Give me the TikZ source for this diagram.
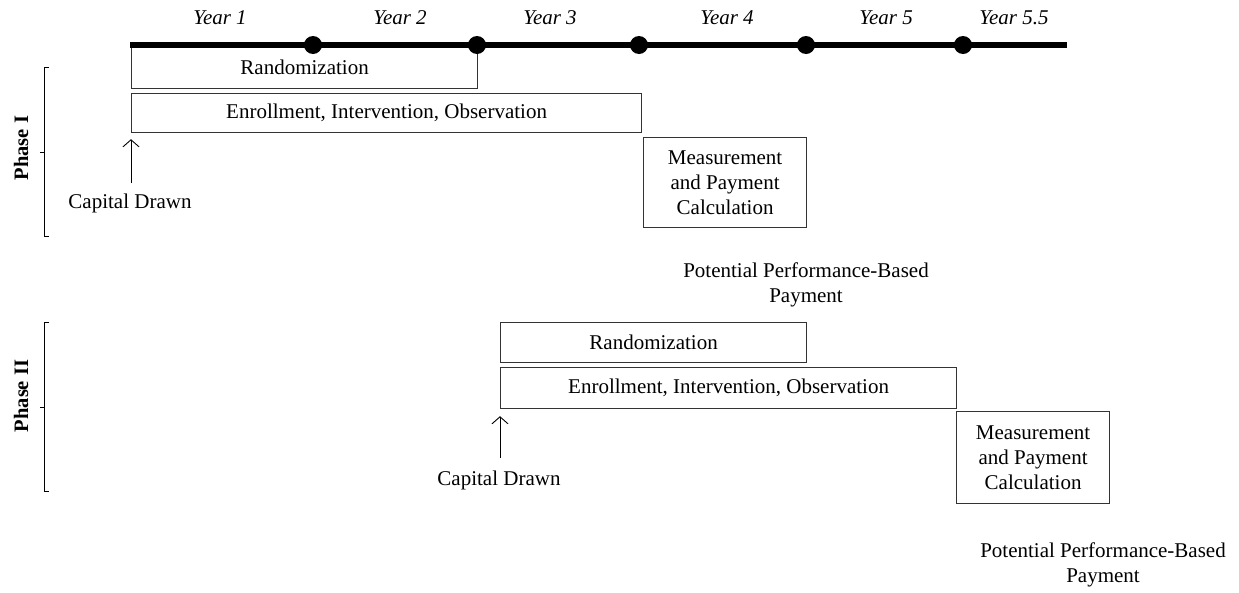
\documentclass[tikz,border=0pt]{standalone}
\usepackage{fontspec}
\setmainfont{Liberation Serif}
\usetikzlibrary{arrows.meta,calc}
\begin{document}
\begin{tikzpicture}[x=1pt,y=-1pt,
  txt/.style={font=\fontsize{21}{25}\selectfont},
  box/.style={txt, draw=black!80, line width=1.2pt, inner sep=0pt, anchor=north west, align=center},
  lbl/.style={txt, inner sep=0pt, align=center},
  yr/.style={inner sep=0pt, font=\fontsize{21}{25}\selectfont\itshape},
  phase/.style={inner sep=0pt, rotate=90, font=\fontsize{20.5}{25}\selectfont\bfseries},
  dot/.style={circle, fill=black, inner sep=0pt, minimum size=18pt},
  timeline/.style={line width=6pt},
  capar/.style={-{Straight Barb[length=7pt,width=16pt]}, line width=0.9pt},
  bracket/.style={line width=1pt}]
\useasboundingbox (0,0) rectangle (1239,592);

% Phase I boxes
\node[box, minimum width=346pt, minimum height=43pt] (rand1) at (131,45) {Randomization};
\node[box, minimum width=510pt, minimum height=39pt] (enr1) at (131,93) {Enrollment, Intervention, Observation};
\node[box, minimum width=163pt, minimum height=90pt] (meas1) at (643,137) {Measurement\\and Payment\\Calculation};

% timeline
\coordinate (t0) at (130,45);
\coordinate (t6) at (1067,45);
\draw[timeline] (t0) -- (t6);
\node[dot] (d1) at (313,45) {};
\node[dot] (d2) at (477,45) {};
\node[dot] (d3) at (639,45) {};
\node[dot] (d4) at (806,45) {};
\node[dot] (d5) at (963,45) {};

\node[yr] (y1) at (220,18) {Year 1};
\node[yr] (y2) at (400,18) {Year 2};
\node[yr] (y3) at (550,18) {Year 3};
\node[yr] (y4) at (727,18) {Year 4};
\node[yr] (y5) at (886,18) {Year 5};
\node[yr] (y55) at (1014,18) {Year 5.5};

% Phase I capital
\coordinate (c1) at (131,183);
\draw[capar] (c1) -- ($(enr1.south west)+(0,6)$);
\node[lbl] (cap1) at (130,203) {Capital Drawn};
\node[lbl] (pot1) at (806,285) {Potential Performance-Based\\Payment};

% Phase I bracket
\draw[bracket] (49,67) -- (44,67) -- (44,236) -- (49,236);
\draw[bracket] (44,152) -- (40,152);
\node[phase] (ph1) at (21,148) {Phase I};

% Phase II boxes
\node[box, minimum width=306pt, minimum height=40pt] (rand2) at (500,322) {Randomization};
\node[box, minimum width=456pt, minimum height=41pt] (enr2) at (500,367) {Enrollment, Intervention, Observation};
\node[box, minimum width=153pt, minimum height=92pt] (meas2) at (956,411) {Measurement\\and Payment\\Calculation};

\coordinate (c2) at (500,458);
\draw[capar] (c2) -- ($(enr2.south west)+(0,7)$);
\node[lbl] (cap2) at (499,480) {Capital Drawn};
\node[lbl] (pot2) at (1103,565) {Potential Performance-Based\\Payment};

% Phase II bracket
\draw[bracket] (49,322) -- (44,322) -- (44,491) -- (49,491);
\draw[bracket] (44,407) -- (40,407);
\node[phase] (ph2) at (21,396) {Phase II};
\end{tikzpicture}
\end{document}
